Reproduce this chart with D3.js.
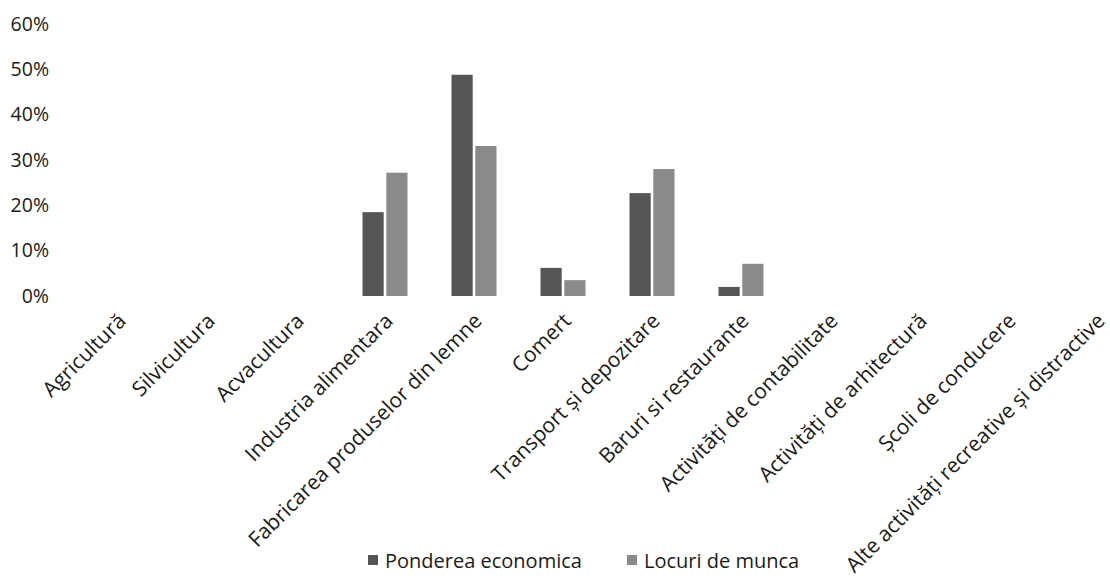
<!DOCTYPE html>
<html>
<head>
<meta charset="utf-8">
<script src="https://cdn.jsdelivr.net/npm/d3@7"></script>
<style>
  body { margin: 0; background: #fff; }
  text { font-family: "Open Sans", sans-serif; fill: #1a1a1a; }
</style>
</head>
<body>
<div id="chart-container"></div>
<script>
const categories = [
  "Agricultură", "Silvicultura", "Acvacultura", "Industria alimentara",
  "Fabricarea produselor din lemne", "Comert", "Transport și depozitare",
  "Baruri si restaurante", "Activități de contabilitate", "Activități de arhitectură",
  "Școli de conducere", "Alte activități recreative și distractive"
];
const seriesNames = ["Ponderea economica", "Locuri de munca"];
const ponderea = [0, 0, 0, 18.5, 48.8, 6.2, 22.7, 2.0, 0, 0, 0, 0];
const locuri   = [0, 0, 0, 27.2, 33.1, 3.5, 28.0, 7.1, 0, 0, 0, 0];
const yTicks = [0, 10, 20, 30, 40, 50, 60];

const width = 1110, height = 581;
const colors = ["#555555", "#8a8a8a"];

const svg = d3.select("#chart-container")
    .append("svg")
    .attr("width", width)
    .attr("height", height);

const x = d3.scaleBand()
    .domain(categories)
    .range([73.5, 1141.5]);

const x1 = d3.scaleBand()
    .domain(seriesNames)
    .range([0, 45])
    .paddingInner(0.11);

const y = d3.scaleLinear()
    .domain([0, 60])
    .range([296, 24]);

// y axis labels only, no lines
svg.append("g")
    .selectAll("text")
    .data(yTicks)
    .enter()
    .append("text")
    .attr("x", 49)
    .attr("y", d => y(d))
    .attr("dy", "0.35em")
    .attr("text-anchor", "end")
    .style("font-size", "19.5px")
    .text(d => d + "%");

const rows = categories.map((c, i) => ({cat: c, vals: [ponderea[i], locuri[i]]}));

const groups = svg.append("g")
    .selectAll("g")
    .data(rows)
    .enter()
    .append("g")
    .attr("transform", d => "translate(" + (x(d.cat) + x.bandwidth() / 2 - 22.5) + ",0)");

groups.selectAll("rect")
    .data(d => d.vals.map((v, j) => ({name: seriesNames[j], v: v, j: j})))
    .enter()
    .append("rect")
    .attr("x", d => x1(d.name))
    .attr("y", d => y(d.v))
    .attr("width", x1.bandwidth())
    .attr("height", d => y(0) - y(d.v))
    .style("fill", d => colors[d.j]);

// rotated category labels
svg.append("g")
    .selectAll("text")
    .data(categories)
    .enter()
    .append("text")
    .attr("text-anchor", "end")
    .attr("transform", d => "translate(" + (x(d) + x.bandwidth() / 2 + 4) + ",317) rotate(-45)")
    .attr("dy", "0.35em")
    .style("font-size", "21px")
    .text(d => d);

// legend
const legend = svg.append("g");
const legX = [368, 627];
seriesNames.forEach((s, j) => {
    legend.append("rect")
        .attr("x", legX[j])
        .attr("y", 555)
        .attr("width", 10)
        .attr("height", 10)
        .style("fill", colors[j]);
    legend.append("text")
        .attr("x", legX[j] + 17)
        .attr("y", 561)
        .attr("dy", "0.35em")
        .style("font-size", "20px")
        .text(s);
});
</script>
</body>
</html>
